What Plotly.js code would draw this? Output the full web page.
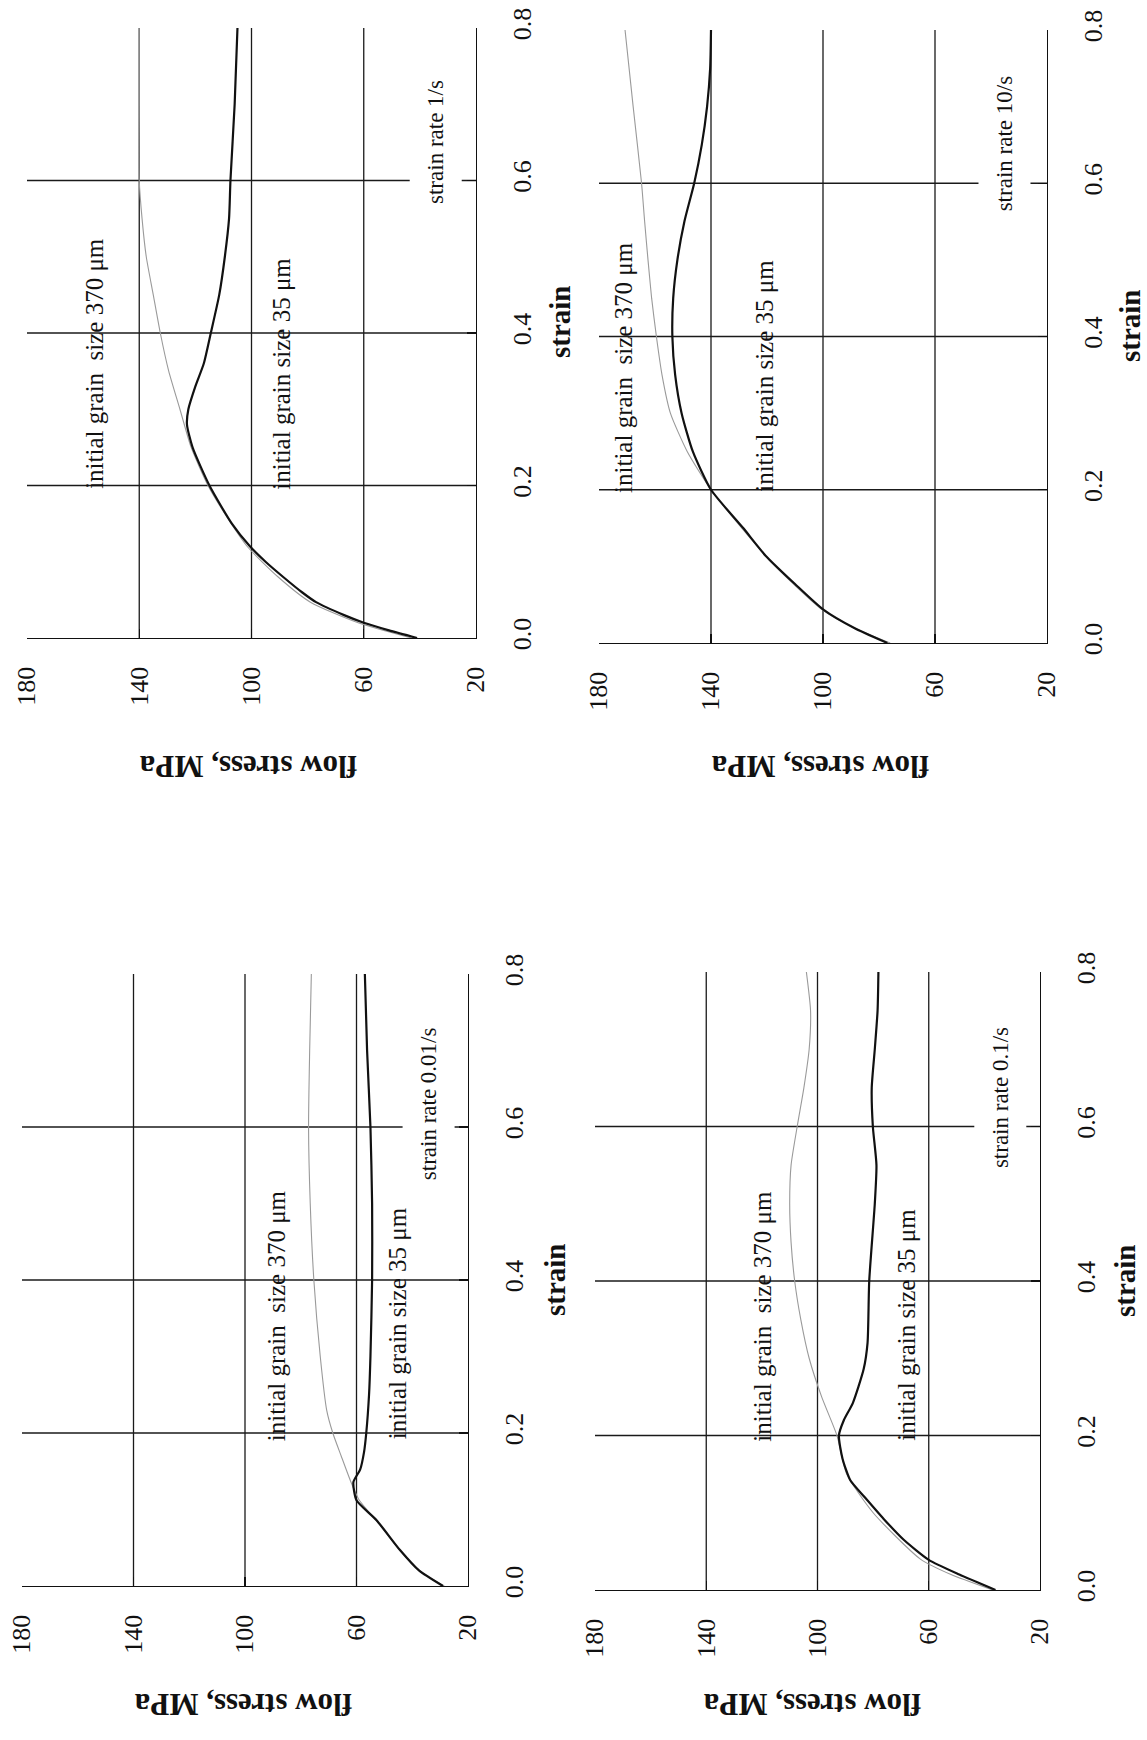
<!DOCTYPE html>
<html>
<head>
<meta charset="utf-8">
<script src="https://cdn.plot.ly/plotly-3.0.1.min.js"></script>
<style>html,body{margin:0;padding:0;background:#fff;}#chart{width:1147px;height:1740px;}</style>
</head>
<body>
<div id="chart"></div>
<script>
// ---- tick labels ----
const stressTicks = [180, 140, 100, 60, 20];
const strainTicks = [0, 0.2, 0.4, 0.6, 0.8];
const stressGrid = [60, 100, 140];
const strainGrid = [0.2, 0.4, 0.6];

// ---- chart A: strain rate 1/s ----
const strainA35 = [0, 0.01, 0.02, 0.03, 0.047, 0.06, 0.08, 0.10, 0.12, 0.15, 0.2, 0.25, 0.28, 0.3, 0.33, 0.36, 0.4, 0.45, 0.5, 0.55, 0.6, 0.7, 0.8];
const stressA35 = [41, 51, 60, 67, 77, 82, 88.7, 95, 100.5, 107, 115, 121, 123, 122.5, 120, 117, 114.5, 111.5, 109.5, 108, 107.5, 106, 105];
const strainA370 = [0, 0.02, 0.047, 0.08, 0.12, 0.16, 0.2, 0.25, 0.3, 0.35, 0.4, 0.45, 0.5, 0.55, 0.6, 0.7, 0.8];
const stressA370 = [43, 62, 79, 90.5, 101.5, 109, 115.5, 121.5, 125.5, 129.5, 132.5, 135, 137.5, 139, 140, 140, 140];

// ---- chart B: strain rate 10/s ----
const strainB35 = [0, 0.02, 0.044, 0.077, 0.114, 0.15, 0.2, 0.25, 0.3, 0.35, 0.4, 0.45, 0.5, 0.55, 0.6, 0.65, 0.7, 0.75, 0.8];
const stressB35 = [77, 89, 100, 110, 120.5, 128.5, 140, 146.5, 150.5, 152.8, 153.8, 153.5, 152, 149.5, 146, 143.3, 141.4, 140.3, 140];
const strainB370 = [0, 0.02, 0.044, 0.1, 0.15, 0.2, 0.25, 0.3, 0.35, 0.4, 0.45, 0.5, 0.55, 0.6, 0.7, 0.8];
const stressB370 = [76, 89, 100.5, 117, 129, 140, 148.5, 154.5, 157.5, 159.5, 161.2, 162.5, 163.7, 164.8, 167.8, 170.7];

// ---- chart C: strain rate 0.01/s ----
const strainC35 = [0, 0.02, 0.047, 0.086, 0.112, 0.136, 0.152, 0.175, 0.2, 0.25, 0.3, 0.4, 0.5, 0.6, 0.7, 0.8];
const stressC35 = [29, 37.5, 44.4, 52.8, 60, 61.1, 58.7, 57.3, 56.5, 55.5, 55, 54.4, 54.4, 55, 56.2, 57];
const strainC370 = [0, 0.02, 0.047, 0.086, 0.112, 0.136, 0.17, 0.2, 0.23, 0.3, 0.4, 0.5, 0.6, 0.7, 0.8];
const stressC370 = [28.5, 37.5, 44.5, 53, 59, 62, 65.5, 68.5, 70.7, 73, 75.3, 76.6, 77.2, 76.8, 76.2];

// ---- chart D: strain rate 0.1/s ----
const strainD35 = [0, 0.02, 0.039, 0.065, 0.092, 0.12, 0.142, 0.17, 0.2, 0.22, 0.242, 0.286, 0.32, 0.4, 0.5, 0.55, 0.6, 0.65, 0.7, 0.75, 0.8];
const stressD35 = [36, 49, 60, 69, 76.2, 83, 88.2, 91, 92.3, 90.5, 87.3, 83.4, 82, 81.4, 79.4, 78.8, 80.1, 80.5, 79.4, 78.4, 78.1];
const strainD370 = [0, 0.02, 0.04, 0.1, 0.15, 0.2, 0.25, 0.3, 0.35, 0.4, 0.45, 0.5, 0.55, 0.6, 0.65, 0.7, 0.75, 0.8];
const stressD370 = [37, 52, 63, 80, 89.5, 93, 98.5, 103, 106, 108.2, 109.5, 110, 109.5, 107.3, 104.9, 103, 102.5, 104];

const rateLabels = ['strain rate 1/s', 'strain rate 10/s', 'strain rate 0.01/s', 'strain rate 0.1/s'];
const label370 = 'initial grain\u00a0 size 370 \u03bcm';
const label35 = 'initial grain size 35 \u03bcm';

// label anchor positions in data units [stress, strain]
const pos370 = [[156, 0.36], [171.5, 0.36], [88.9, 0.354], [119.9, 0.354]];
const pos35 = [[89.4, 0.347], [121, 0.349], [45.3, 0.344], [68.3, 0.343]];
const posRate = [[34.4, 0.65], [35.3, 0.651], [34.3, 0.63], [34.4, 0.638]];

// panel placement (pixels in 1147x1740 page): [left, right, top, bottom]
const W = 1147, H = 1740;
const panels = [
  [27, 476, 28, 638],
  [599, 1047, 30, 643],
  [22, 468, 974, 1586],
  [595, 1040, 972, 1590]
];
const strainPos = [[560, 322], [1130, 326], [555, 1280], [1125, 1281]];
const stressPos = [[248, 767], [820, 767], [243, 1705], [812, 1705]];

const series = [
  [strainA35, stressA35, strainA370, stressA370],
  [strainB35, stressB35, strainB370, stressB370],
  [strainC35, stressC35, strainC370, stressC370],
  [strainD35, stressD35, strainD370, stressD370]
];

const serif = 'Liberation Serif, Times New Roman, serif';
const traces = [];
const layout = {
  width: W, height: H,
  margin: {l: 0, r: 0, t: 0, b: 0},
  paper_bgcolor: '#ffffff', plot_bgcolor: 'rgba(0,0,0,0)',
  showlegend: false,
  annotations: [], shapes: []
};

panels.forEach((p, i) => {
  const n = i === 0 ? '' : String(i + 1);
  const xa = 'x' + n, ya = 'y' + n;
  const [s35, f35, s370, f370] = series[i];
  traces.push({
    type: 'scatter', mode: 'lines', x: f370, y: s370, xaxis: xa, yaxis: ya,
    line: {color: '#9a9a9a', width: 1.1, shape: 'spline', smoothing: 0.6}, hoverinfo: 'skip'
  });
  traces.push({
    type: 'scatter', mode: 'lines', x: f35, y: s35, xaxis: xa, yaxis: ya,
    line: {color: '#111', width: 2.2, shape: 'spline', smoothing: 0.6}, hoverinfo: 'skip'
  });
  const tickfont = {family: serif, size: 26, color: '#111'};
  layout['xaxis' + n] = {
    domain: [p[0] / W, p[1] / W], anchor: ya, range: [180, 20],
    tickmode: 'array', tickvals: stressTicks, ticks: 'inside', ticklen: 9, tickwidth: 1.2, tickcolor: '#111',
    tickangle: -90, showline: true, linecolor: '#111', linewidth: 1.4, showgrid: false, zeroline: false,
    tickfont: tickfont, ticklabelstandoff: 17, fixedrange: true
  };
  layout['yaxis' + n] = {
    domain: [1 - p[3] / H, 1 - p[2] / H], anchor: xa, side: 'right', range: [0, 0.8],
    tickmode: 'array', tickvals: strainTicks, tickformat: '.1f', ticks: 'inside', ticklen: 9, tickwidth: 1.2, tickcolor: '#111',
    tickangle: -90, showline: true, linecolor: '#111', linewidth: 1.4, showgrid: false, zeroline: false,
    tickfont: tickfont, ticklabelstandoff: 22, fixedrange: true
  };
  stressGrid.forEach(v => layout.shapes.push({
    type: 'line', xref: xa, yref: ya, x0: v, x1: v, y0: 0, y1: 0.8, layer: 'below',
    line: {color: '#1a1a1a', width: 1.3}
  }));
  strainGrid.forEach(v => layout.shapes.push({
    type: 'line', xref: xa, yref: ya, x0: 180, x1: 20, y0: v, y1: v, layer: 'below',
    line: {color: '#1a1a1a', width: 1.3}
  }));
  const ann = (txt, xy, size, extra) => Object.assign({
    text: txt, xref: xa, yref: ya, x: xy[0], y: xy[1], showarrow: false, textangle: -90,
    xanchor: 'center', yanchor: 'middle', font: {family: serif, size: size, color: '#111'}
  }, extra || {});
  layout.annotations.push(ann(label370, pos370[i], 25));
  layout.annotations.push(ann(label35, pos35[i], 25));
  layout.annotations.push(ann(rateLabels[i], posRate[i], 23, {bgcolor: '#ffffff', borderpad: 13}));
  layout.annotations.push({
    text: '<b>strain</b>', xref: 'paper', yref: 'paper', x: strainPos[i][0] / W, y: 1 - strainPos[i][1] / H,
    showarrow: false, textangle: -90, xanchor: 'center', yanchor: 'middle',
    font: {family: serif, size: 29, color: '#111'}
  });
  layout.annotations.push({
    text: '<b>flow stress, MPa</b>', xref: 'paper', yref: 'paper', x: stressPos[i][0] / W, y: 1 - stressPos[i][1] / H,
    showarrow: false, textangle: 180, xanchor: 'center', yanchor: 'middle',
    font: {family: serif, size: 31, color: '#111'}
  });
});

Plotly.newPlot('chart', traces, layout, {staticPlot: true, displayModeBar: false});
</script>
</body>
</html>
